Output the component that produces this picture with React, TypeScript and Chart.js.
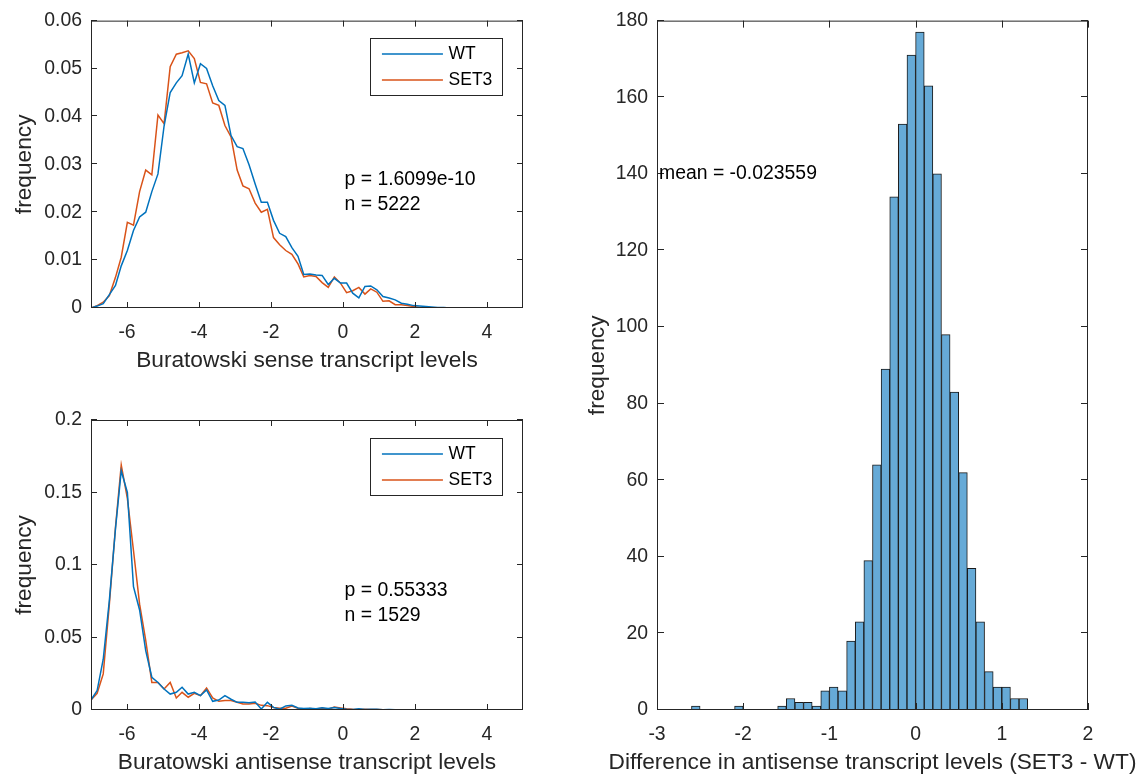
import React, { useEffect, useRef } from 'react';
import { Chart, registerables } from 'chart.js';

Chart.register(...registerables);

const FONT = "'Liberation Sans', Arial, Helvetica, sans-serif";
const AXIS_COLOR = '#262626';

// ---------- data ----------
const levelBins = [
  -7.0, -6.83, -6.66, -6.49, -6.32, -6.16, -5.99, -5.82, -5.65, -5.48,
  -5.31, -5.14, -4.97, -4.8, -4.63, -4.47, -4.3, -4.13, -3.96, -3.79,
  -3.62, -3.45, -3.28, -3.11, -2.94, -2.78, -2.61, -2.44, -2.27, -2.1,
  -1.93, -1.76, -1.59, -1.42, -1.25, -1.09, -0.92, -0.75, -0.58, -0.41,
  -0.24, -0.07, 0.1, 0.27, 0.44, 0.61, 0.77, 0.94, 1.11, 1.28,
  1.45, 1.62, 1.79, 1.96, 2.13, 2.3, 2.46, 2.63, 2.8, 2.97,
];

const senseWT = [
  0.0, 0.0004, 0.0009, 0.0028, 0.0047, 0.0088, 0.012, 0.0162, 0.019, 0.02,
  0.0243, 0.028, 0.038, 0.045, 0.047, 0.0485, 0.053, 0.047, 0.051, 0.05,
  0.0464, 0.0433, 0.0423, 0.036, 0.0337, 0.0333, 0.0299, 0.0259, 0.0221, 0.0221,
  0.0183, 0.0156, 0.0149, 0.0126, 0.0108, 0.007, 0.0071, 0.0069, 0.0068, 0.0049,
  0.0062, 0.0052, 0.0052, 0.0031, 0.0021, 0.0045, 0.0046, 0.0038, 0.0024, 0.0021,
  0.0017, 0.001, 0.0008, 0.0005, 0.0004, 0.0003, 0.0002, 0.0001, 0.0001, 0.0,
];

const senseSET3 = [
  0.0, 0.0005, 0.0012, 0.0026, 0.0064, 0.0106, 0.0179, 0.0173, 0.0243, 0.0288,
  0.0278, 0.0403, 0.0385, 0.0504, 0.053, 0.0533, 0.0537, 0.0521, 0.0471, 0.0468,
  0.0428, 0.0423, 0.0381, 0.0357, 0.0288, 0.0255, 0.0249, 0.0219, 0.02, 0.0206,
  0.0147, 0.0132, 0.012, 0.0112, 0.0092, 0.0065, 0.0068, 0.0066, 0.0053, 0.0043,
  0.0065, 0.0052, 0.0032, 0.0036, 0.0043, 0.0029, 0.004, 0.0033, 0.0014, 0.0015,
  0.0007, 0.0007, 0.0005, 0.0003, 0.0001, 0.0001, 0.0, 0.0, 0.0, 0.0,
];

const antisenseWT = [
  0.0069, 0.0134, 0.035, 0.0756, 0.125, 0.165, 0.15, 0.085, 0.069, 0.041,
  0.0226, 0.019, 0.0145, 0.011, 0.0122, 0.0157, 0.011, 0.0122, 0.0099, 0.0138,
  0.006, 0.0069, 0.0099, 0.0074, 0.0053, 0.0053, 0.005, 0.0055, 0.0007, 0.0053,
  0.0018, 0.0005, 0.0028, 0.0032, 0.0014, 0.001, 0.0012, 0.0008, 0.0015, 0.001,
  0.0018, 0.001, 0.0006, 0.0004, 0.0009, 0.0003, 0.0006, 0.0005, 0.0002, 0.0003,
  0.0001, 0.0002, 0.0001, 0.0, 0.0, 0.0, 0.0, 0.0, 0.0, 0.0,
];

const antisenseSET3 = [
  0.0069, 0.0115, 0.0249, 0.073, 0.126, 0.169, 0.146, 0.11, 0.073, 0.048,
  0.019, 0.019, 0.0145, 0.019, 0.0083, 0.0122, 0.0088, 0.0115, 0.0099, 0.0152,
  0.0083, 0.006, 0.0065, 0.0065, 0.0053, 0.0041, 0.0041, 0.0046, 0.0032, 0.003,
  0.0018, 0.0012, 0.0012, 0.0028, 0.0012, 0.0002, 0.001, 0.0007, 0.0012, 0.0005,
  0.002, 0.0014, 0.0008, 0.0005, 0.0004, 0.0005, 0.0003, 0.0004, 0.0002, 0.0001,
  0.0001, 0.0001, 0.0, 0.0, 0.0, 0.0, 0.0, 0.0, 0.0, 0.0,
];

const diffBinCenters = [
  -2.85, -2.75, -2.65, -2.55, -2.45, -2.35, -2.25, -2.15, -2.05, -1.95,
  -1.85, -1.75, -1.65, -1.55, -1.45, -1.35, -1.25, -1.15, -1.05, -0.95,
  -0.85, -0.75, -0.65, -0.55, -0.45, -0.35, -0.25, -0.15, -0.05, 0.05,
  0.15, 0.25, 0.35, 0.45, 0.55, 0.65, 0.75, 0.85, 0.95, 1.05,
  1.15, 1.25,
];

const diffCounts = [
  0, 0, 0, 1, 0, 0, 0, 0, 1, 0,
  0, 0, 0, 1, 3, 2, 2, 1, 5, 6,
  5, 18, 23, 39, 64, 89, 134, 153, 171, 177,
  163, 140, 98, 83, 62, 37, 23, 10, 6, 6,
  3, 3,
];

const seriesNames = ['WT', 'SET3'];
const seriesColors = ['#0072BD', '#D95319'];

const levelXTicks = [-6, -4, -2, 0, 2, 4];
const senseYTicks = [0, 0.01, 0.02, 0.03, 0.04, 0.05, 0.06];
const antisenseYTicks = [0, 0.05, 0.1, 0.15, 0.2];
const diffXTicks = [-3, -2, -1, 0, 1, 2];
const diffYTicks = [0, 20, 40, 60, 80, 100, 120, 140, 160, 180];

const senseNotes = ['p = 1.6099e-10', 'n = 5222'];
const antisenseNotes = ['p = 0.55333', 'n = 1529'];
const diffNotes = ['mean = -0.023559'];

// ---------- helpers / plugins ----------
const fmt = (v: any) => String(+Number(v).toFixed(6));

const TICK_FONT = { family: FONT, size: 19.4 };
const TITLE_FONT = { family: FONT, size: 22.7 };

const boxPlugin = {
  id: 'matlabBox',
  afterDraw(chart: any, _a: any, o: any) {
    const { ctx, chartArea } = chart;
    const { left, right, top, bottom } = chartArea;
    const x = chart.scales.x;
    const y = chart.scales.y;
    const L = o.tickLen || 6;
    ctx.save();
    ctx.strokeStyle = AXIS_COLOR;
    ctx.lineWidth = 1;
    ctx.beginPath();
    x.ticks.forEach((t: any) => {
      const px = Math.round(x.getPixelForValue(t.value)) + 0.5;
      ctx.moveTo(px, bottom);
      ctx.lineTo(px, bottom - L);
      ctx.moveTo(px, top);
      ctx.lineTo(px, top + L);
    });
    y.ticks.forEach((t: any) => {
      const py = Math.round(y.getPixelForValue(t.value)) - 0.5;
      ctx.moveTo(left, py);
      ctx.lineTo(left + L, py);
      ctx.moveTo(right, py);
      ctx.lineTo(right - L, py);
    });
    ctx.stroke();
    ctx.strokeRect(left + 0.5, top + 0.5, right - left - 1, bottom - top - 1);

    // x-axis title, centred under the plot area (not width-constrained)
    if (o.xTitle) {
      ctx.font = `${TITLE_FONT.size}px ${FONT}`;
      ctx.fillStyle = AXIS_COLOR;
      ctx.textAlign = 'center';
      ctx.textBaseline = 'middle';
      ctx.fillText(o.xTitle, (left + right) / 2, bottom + o.xTitleOffset);
    }
    ctx.restore();
  },
};

const legendBoxPlugin = {
  id: 'legendBox',
  afterDraw(chart: any, _a: any, o: any) {
    if (!o || !o.show) return;
    const { ctx, chartArea } = chart;
    const items = chart.data.datasets.map((d: any) => ({ label: d.label, color: d.borderColor }));
    ctx.save();
    ctx.font = `${o.fontSize}px ${FONT}`;
    const textW = Math.max(...items.map((i: any) => ctx.measureText(i.label).width));
    const w = o.padLeft + o.lineLen + o.gap + textW + o.padRight;
    const h = o.padTop + o.rowH * (items.length - 1) + o.padBottom;
    const right = chartArea.right - o.offsetRight;
    const left = right - w;
    const top = chartArea.top + o.offsetTop;
    ctx.fillStyle = '#ffffff';
    ctx.fillRect(left, top, w, h);
    ctx.strokeStyle = AXIS_COLOR;
    ctx.lineWidth = 1;
    ctx.strokeRect(Math.round(left) + 0.5, Math.round(top) + 0.5, Math.round(w), Math.round(h));
    items.forEach((it: any, i: number) => {
      const cy = top + o.padTop + i * o.rowH;
      ctx.strokeStyle = it.color;
      ctx.lineWidth = 1.5;
      ctx.beginPath();
      ctx.moveTo(left + o.padLeft, cy);
      ctx.lineTo(left + o.padLeft + o.lineLen, cy);
      ctx.stroke();
      ctx.fillStyle = '#000000';
      ctx.textBaseline = 'middle';
      ctx.textAlign = 'left';
      ctx.fillText(it.label, left + o.padLeft + o.lineLen + o.gap, cy);
    });
    ctx.restore();
  },
};

const notePlugin = {
  id: 'notes',
  afterDraw(chart: any, _a: any, o: any) {
    if (!o || !o.lines) return;
    const { ctx } = chart;
    const px = chart.scales.x.getPixelForValue(o.x) + o.dx;
    const py = chart.scales.y.getPixelForValue(o.y);
    ctx.save();
    ctx.font = `${o.fontSize}px ${FONT}`;
    ctx.fillStyle = '#000000';
    ctx.textBaseline = 'middle';
    ctx.textAlign = 'left';
    o.lines.forEach((line: string, i: number) => {
      ctx.fillText(line, px, py + i * o.lineGap);
    });
    ctx.restore();
  },
};

function axisX(min: number, max: number, ticks: number[], height: number) {
  return {
    type: 'linear',
    min,
    max,
    offset: false,
    afterBuildTicks: (s: any) => {
      s.ticks = ticks.map((value) => ({ value }));
    },
    afterFit: (s: any) => {
      s.height = height;
    },
    grid: { display: false, drawTicks: false },
    border: { display: false },
    ticks: {
      font: TICK_FONT,
      color: AXIS_COLOR,
      padding: 13.5,
      maxRotation: 0,
      autoSkip: false,
      callback: fmt,
    },
    title: { display: false },
  };
}

function axisY(min: number, max: number, ticks: number[], width: number, titleTop: number) {
  return {
    type: 'linear',
    min,
    max,
    afterBuildTicks: (s: any) => {
      s.ticks = ticks.map((value) => ({ value }));
    },
    afterFit: (s: any) => {
      s.width = width;
    },
    grid: { display: false, drawTicks: false },
    border: { display: false },
    ticks: {
      font: TICK_FONT,
      color: AXIS_COLOR,
      padding: 9,
      autoSkip: false,
      callback: fmt,
    },
    title: {
      display: true,
      text: 'frequency',
      font: TITLE_FONT,
      color: AXIS_COLOR,
      padding: { top: titleTop, bottom: 0 },
    },
  };
}

const legendOpts = (offsetTop: number) => ({
  show: true,
  fontSize: 17.5,
  padLeft: 12.4,
  lineLen: 61,
  gap: 5.6,
  padRight: 9.4,
  padTop: 16,
  rowH: 26,
  padBottom: 14.7,
  offsetRight: 21.3,
  offsetTop,
});

function lineConfig(wt: number[], set3: number[], yTicks: number[], yMax: number, xTitle: string,
  pad: any, xHeight: number, notes: string[], noteY: number, legendTop: number) {
  const series = [wt, set3];
  return {
    type: 'line',
    data: {
      datasets: series.map((vals, k) => ({
        label: seriesNames[k],
        data: levelBins.map((x, i) => ({ x, y: vals[i] })),
        borderColor: seriesColors[k],
        backgroundColor: seriesColors[k],
        borderWidth: 1.5,
        pointRadius: 0,
        tension: 0,
        fill: false,
      })),
    },
    options: {
      responsive: false,
      animation: false,
      devicePixelRatio: 1,
      layout: { padding: pad },
      plugins: {
        legend: { display: false },
        tooltip: { enabled: false },
        matlabBox: { tickLen: 6, xTitle, xTitleOffset: 52.5 },
        legendBox: legendOpts(legendTop),
        notes: { x: 0, y: noteY, dx: 1.5, lines: notes, fontSize: 19.4, lineGap: 25 },
      },
      scales: {
        x: axisX(-7, 5, levelXTicks, xHeight),
        y: axisY(0, yMax, yTicks, 91, 11.4),
      },
    },
    plugins: [boxPlugin, legendBoxPlugin, notePlugin],
  };
}

function histConfig() {
  return {
    type: 'bar',
    data: {
      datasets: [
        {
          label: 'SET3 - WT',
          data: diffBinCenters.map((x, i) => ({ x, y: diffCounts[i] })),
          backgroundColor: '#66AAD7',
          borderColor: '#1a1a1a',
          borderWidth: 1,
          borderSkipped: false,
          barPercentage: 1,
          categoryPercentage: 1,
        },
      ],
    },
    options: {
      responsive: false,
      animation: false,
      devicePixelRatio: 1,
      layout: { padding: { top: 18, right: 53, left: 0, bottom: 0 } },
      plugins: {
        legend: { display: false },
        tooltip: { enabled: false },
        matlabBox: {
          tickLen: 7,
          xTitle: 'Difference in antisense transcript levels (SET3 - WT)',
          xTitleOffset: 52.5,
        },
        notes: { x: -3, y: 140, dx: 2, lines: diffNotes, fontSize: 19.4, lineGap: 25 },
      },
      scales: {
        x: axisX(-3, 2, diffXTicks, 66),
        y: axisY(0, 180, diffYTicks, 97, 24.4),
      },
    },
    plugins: [boxPlugin, notePlugin],
  };
}

function ChartCanvas({ make, left, top, width, height }: any) {
  const ref = useRef<HTMLCanvasElement>(null);
  useEffect(() => {
    const chart = new Chart(ref.current as HTMLCanvasElement, make() as any);
    return () => chart.destroy();
  }, []);
  return (
    <canvas
      ref={ref}
      width={width}
      height={height}
      style={{ position: 'absolute', left, top, width, height, display: 'block' }}
    />
  );
}

export default function App() {
  return (
    <div style={{ position: 'absolute', left: 0, top: 0, width: 1141, height: 776, background: '#ffffff', overflow: 'hidden' }}>
      <ChartCanvas
        left={0}
        top={0}
        width={560}
        height={385}
        make={() =>
          lineConfig(senseWT, senseSET3, senseYTicks, 0.06, 'Buratowski sense transcript levels',
            { top: 20, right: 37, left: 0, bottom: 0 }, 77, senseNotes, 0.0267, 17.3)
        }
      />
      <ChartCanvas
        left={0}
        top={385}
        width={560}
        height={391}
        make={() =>
          lineConfig(antisenseWT, antisenseSET3, antisenseYTicks, 0.2, 'Buratowski antisense transcript levels',
            { top: 35, right: 37, left: 0, bottom: 0 }, 66, antisenseNotes, 0.0823, 18)
        }
      />
      <ChartCanvas left={560} top={0} width={581} height={776} make={histConfig} />
    </div>
  );
}
